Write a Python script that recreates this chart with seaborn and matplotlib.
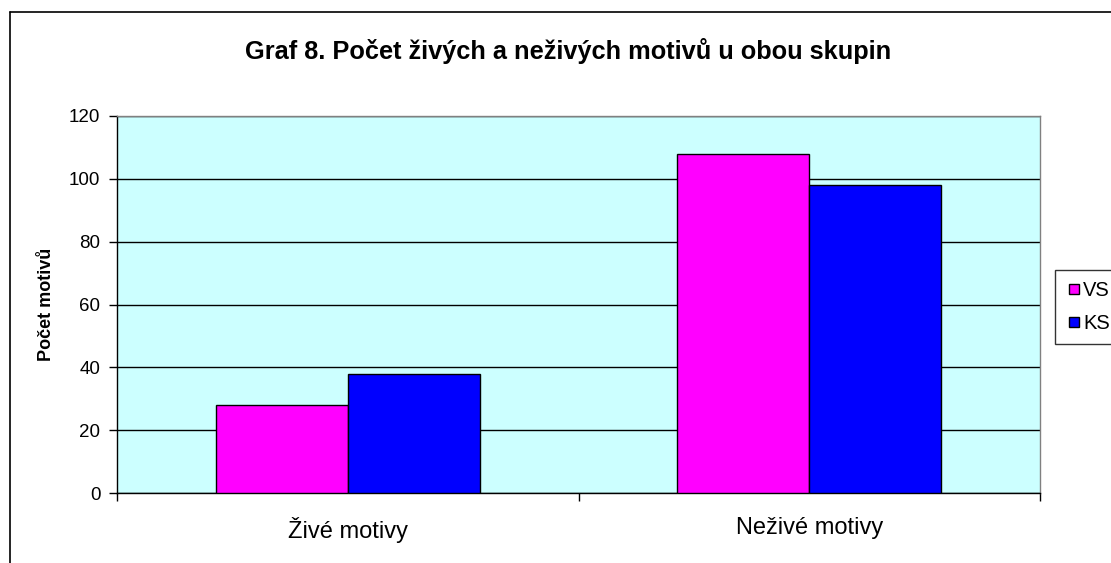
import pandas as pd
import seaborn as sns
from matplotlib import pyplot as plt
from matplotlib.lines import Line2D

# Data
categories = ['Živé motivy', 'Neživé motivy']
groups = ['VS', 'KS']
vs_values = [28, 108]
ks_values = [38, 98]
y_ticks = [0, 20, 40, 60, 80, 100, 120]

df = pd.DataFrame({
    'Motiv': categories * 2,
    'Skupina': ['VS'] * 2 + ['KS'] * 2,
    'Pocet': vs_values + ks_values,
})

sns.set_style('white')
plt.rcParams['font.family'] = ['Liberation Sans', 'DejaVu Sans']
plt.rcParams['text.color'] = 'black'
plt.rcParams['axes.labelcolor'] = 'black'
plt.rcParams['xtick.color'] = 'black'
plt.rcParams['ytick.color'] = 'black'

colors = {'VS': '#FF00FF', 'KS': '#0000FF'}

fig = plt.figure(figsize=(11.11, 5.63), dpi=100)
ax = fig.add_axes([117 / 1111, 1 - 493 / 563, (1040 - 117) / 1111, (493 - 116) / 563])
ax.set_facecolor('#CCFFFF')

sns.barplot(data=df, x='Motiv', y='Pocet', hue='Skupina', hue_order=groups,
            order=categories, palette=colors, width=0.572, edgecolor='black',
            linewidth=1.0, saturation=1, legend=False, ax=ax, zorder=3)

ax.set_xlim(-0.5, 1.5)
ax.set_ylim(0, 120)
ax.set_yticks(y_ticks)
ax.set_yticklabels([str(v) for v in y_ticks], fontsize=13.5)
ax.yaxis.grid(True, color='black', linewidth=1)
ax.set_axisbelow(True)

ax.tick_params(axis='y', direction='out', length=6, width=1, color='black', left=True, pad=6)
ax.tick_params(axis='x', which='major', length=0, labelsize=17, pad=17)
ax.set_xticks([-0.5, 0.5, 1.5], minor=True)
ax.tick_params(axis='x', which='minor', direction='out', length=6, width=1, color='black', bottom=True)

for side in ['top', 'right']:
    ax.spines[side].set_color('#808080')
    ax.spines[side].set_linewidth(1)
for side in ['left', 'bottom']:
    ax.spines[side].set_color('black')
    ax.spines[side].set_linewidth(1)
    ax.spines[side].set_visible(True)

ax.set_xlabel('')
ax.set_ylabel('Počet motivů', fontsize=13, fontweight='bold', labelpad=10)

fig.text(0.511, 1 - 51 / 563, 'Graf 8. Počet živých a neživých motivů u obou skupin',
         ha='center', va='center', fontsize=18.3, fontweight='bold')

# outer chart frame (cut off at the right and bottom)
x0 = 10 / 1111
y0 = 1 - 12 / 563
fig.add_artist(Line2D([x0, 1], [y0, y0], color='black', linewidth=1.2, transform=fig.transFigure))
fig.add_artist(Line2D([x0, x0], [0, y0], color='black', linewidth=1.2, transform=fig.transFigure))

handles = [Line2D([0], [0], marker='s', linestyle='', markersize=7.5,
                  markerfacecolor=colors[g], markeredgecolor='black', label=g)
           for g in groups]
leg = fig.legend(handles=handles, loc='upper left', bbox_to_anchor=(1055 / 1111, 1 - 270 / 563),
                 frameon=True, fancybox=False, edgecolor='black', fontsize=14.5,
                 handletextpad=0.05, handlelength=0.8, borderpad=0.55, labelspacing=0.7,
                 borderaxespad=0)
leg.get_frame().set_linewidth(1)

fig.savefig('out.png', dpi=100)
